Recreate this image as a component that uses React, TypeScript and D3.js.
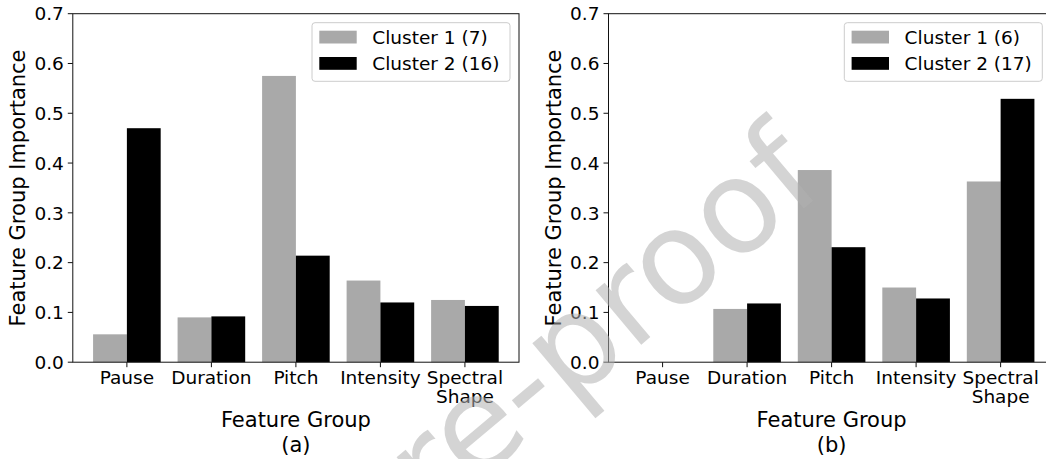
import React from "react";
import * as d3 from "d3";

const categories = ["Pause", "Duration", "Pitch", "Intensity", "Spectral\nShape"];
const yTickValues = [0, 0.1, 0.2, 0.3, 0.4, 0.5, 0.6, 0.7];

// Panel (a)
const aCluster1 = [0.056, 0.090, 0.575, 0.164, 0.125];
const aCluster2 = [0.470, 0.092, 0.214, 0.120, 0.113];
const aLegend = ["Cluster 1 (7)", "Cluster 2 (16)"];

// Panel (b)
const bCluster1 = [0, 0.107, 0.386, 0.150, 0.363];
const bCluster2 = [0, 0.118, 0.231, 0.128, 0.529];
const bLegend = ["Cluster 1 (6)", "Cluster 2 (17)"];

const W = 1046;
const H = 459;
const FONT = "DejaVu Sans";
const GRAY = "#a9a9a9";
const BLACK = "#000000";

type PanelProps = {
  x0: number;
  x1: number;
  s1: number[];
  s2: number[];
  legend: string[];
  legendRight: number;
  yLabelX: number;
  caption: string;
};

const y0 = 13.7;
const y1 = 362.2;

function Panel({ x0, x1, s1, s2, legend, legendRight, yLabelX, caption }: PanelProps) {
  const x = d3.scaleLinear().domain([-0.64, categories.length - 1 + 0.64]).range([x0, x1]);
  const y = d3.scaleLinear().domain([0, 0.7]).range([y1, y0]);
  const bw = 0.4;
  const cx = (x0 + x1) / 2;
  const legW = 198;
  const legX = x1 - legendRight - legW;
  const legY = 22.7;
  return (
    <g>
      {categories.map((c, i) => (
        <g key={c}>
          <rect x={x(i - bw)} y={y(s1[i])} width={x(i) - x(i - bw)} height={y1 - y(s1[i])} fill={GRAY} />
          <rect x={x(i)} y={y(s2[i])} width={x(i + bw) - x(i)} height={y1 - y(s2[i])} fill={BLACK} />
        </g>
      ))}
      <rect x={x0} y={y0} width={x1 - x0} height={y1 - y0} fill="none" stroke="#111" strokeWidth={1} />
      {yTickValues.map((t) => (
        <g key={t}>
          <line x1={x0 - 5} x2={x0} y1={y(t)} y2={y(t)} stroke="#111" strokeWidth={1} />
          <text x={x0 - 9} y={y(t)} dy="0.36em" textAnchor="end" fontSize={18.5} fontFamily={FONT} fill="#000">
            {t.toFixed(1)}
          </text>
        </g>
      ))}
      {categories.map((c, i) => (
        <g key={"t" + c}>
          <line x1={x(i)} x2={x(i)} y1={y1} y2={y1 + 5} stroke="#111" strokeWidth={1} />
          {c.split("\n").map((ln, k) => (
            <text key={k} x={x(i)} y={383.5 + k * 19.8} textAnchor="middle" fontSize={18.5} fontFamily={FONT} fill="#000">
              {ln}
            </text>
          ))}
        </g>
      ))}
      <text x={cx} y={426.7} textAnchor="middle" fontSize={21} fontFamily={FONT} fill="#000">
        Feature Group
      </text>
      <text x={cx} y={451.7} textAnchor="middle" fontSize={21} fontFamily={FONT} fill="#000">
        {caption}
      </text>
      <text
        transform={`translate(${yLabelX},${(y0 + y1) / 2}) rotate(-90)`}
        textAnchor="middle"
        fontSize={21}
        fontFamily={FONT}
        fill="#000"
      >
        Feature Group Importance
      </text>
      <rect x={legX} y={legY} width={legW} height={58.6} rx={3} fill="white" fillOpacity={0.8} stroke="#cccccc" strokeWidth={1} />
      {legend.map((l, k) => (
        <g key={l}>
          <rect x={legX + 7.3} y={legY + 8 + k * 26.3} width={37.4} height={12.8} fill={k === 0 ? GRAY : BLACK} />
          <text x={legX + 60.3} y={legY + 21.3 + k * 26.3} fontSize={18.5} fontFamily={FONT} fill="#000">
            {l}
          </text>
        </g>
      ))}
    </g>
  );
}

export default function App() {
  return (
    <svg width={W} height={H} style={{ position: "absolute", left: 0, top: 0, background: "#fff" }}>
      <rect x={0} y={0} width={W} height={H} fill="#fff" />
      <Panel x0={72.8} x1={519} s1={aCluster1} s2={aCluster2} legend={aLegend} legendRight={9} yLabelX={24.5} caption="(a)" />
      <Panel x0={608.5} x1={1054.7} s1={bCluster1} s2={bCluster2} legend={bLegend} legendRight={12.4} yLabelX={560.5} caption="(b)" />
      <text
        transform="translate(828,188) rotate(-40)"
        textAnchor="end"
        fontSize={130}
        fontFamily={FONT}
        fill="#b0b0b0"
        fillOpacity={0.55}
      >
        Journal Pre-proof
      </text>
    </svg>
  );
}
